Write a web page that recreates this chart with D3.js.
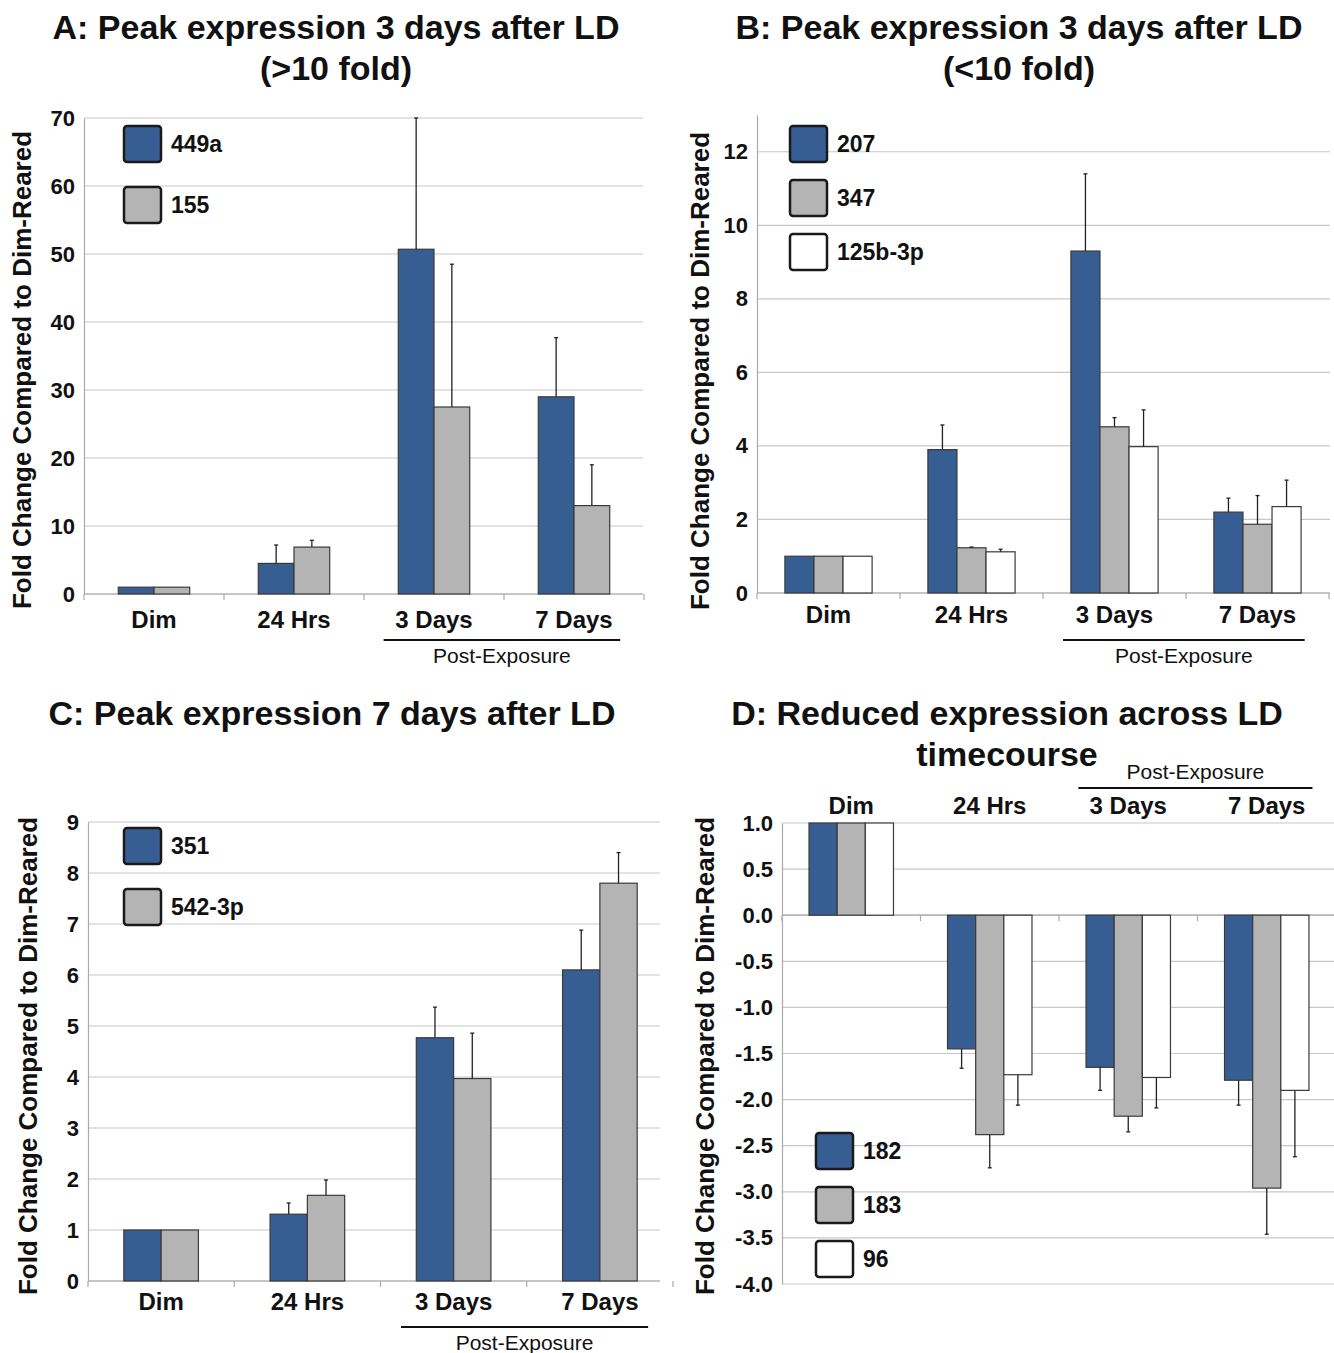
<!DOCTYPE html>
<html lang="en">
<head>
<meta charset="UTF-8">
<script src="https://d3js.org/d3.v7.min.js"></script>
<title>Fold change after LD</title>
<style>
  body { margin: 0; background: #fff; }
  text { font-family: "Liberation Sans", Arial, sans-serif; fill: #111; }
</style>
</head>
<body>
<script>
// categories shared by all four panels
var categories = ["Dim", "24 Hrs", "3 Days", "7 Days"];

// A: peak 3 days (>10 fold)
var seriesA = ["449a", "155"];
var valsA_449a = [1, 4.5, 50.7, 29.0];
var errA_449a  = [0, 2.7, 20.0, 8.7];
var valsA_155  = [1, 6.9, 27.5, 13.0];
var errA_155   = [0, 1.0, 21.0, 6.0];
var ticksA = [0, 10, 20, 30, 40, 50, 60, 70];

// B: peak 3 days (<10 fold)
var seriesB = ["207", "347", "125b-3p"];
var valsB_207  = [1, 3.9, 9.3, 2.2];
var errB_207   = [0, 0.67, 2.1, 0.38];
var valsB_347  = [1, 1.23, 4.52, 1.87];
var errB_347   = [0, 0.02, 0.25, 0.78];
var valsB_125b = [1, 1.12, 3.98, 2.35];
var errB_125b  = [0, 0.07, 1.0, 0.72];
var ticksB = [0, 2, 4, 6, 8, 10, 12];

// C: peak 7 days
var seriesC = ["351", "542-3p"];
var valsC_351 = [1, 1.31, 4.77, 6.1];
var errC_351  = [0, 0.22, 0.6, 0.78];
var valsC_542 = [1, 1.68, 3.97, 7.8];
var errC_542  = [0, 0.3, 0.89, 0.6];
var ticksC = [0, 1, 2, 3, 4, 5, 6, 7, 8, 9];

// D: reduced expression
var seriesD = ["182", "183", "96"];
var valsD_182 = [1, -1.45, -1.65, -1.79];
var errD_182  = [0, 0.21, 0.25, 0.27];
var valsD_183 = [1, -2.38, -2.18, -2.96];
var errD_183  = [0, 0.36, 0.17, 0.5];
var valsD_96  = [1, -1.73, -1.76, -1.9];
var errD_96   = [0, 0.33, 0.33, 0.72];
var ticksD = [1, 0.5, 0, -0.5, -1, -1.5, -2, -2.5, -3, -3.5, -4];

var colors = ["#375e93", "#b4b4b4", "#ffffff"];
var yTitle = "Fold Change Compared to Dim-Reared";

var svg = d3.select("body").append("svg").attr("width", 1334).attr("height", 1353);

// plain hyphen for negatives, like the original
var fmtD = d => d.toFixed(1);

function drawPanel(p) {
  var g = svg.append("g");

  var x0 = d3.scaleBand().domain(categories).range([p.left, p.right]);
  var x1 = d3.scaleBand().domain(p.series).range([0, x0.bandwidth()]).paddingOuter(0.96);
  var y = d3.scaleLinear().domain(p.domain).range([p.bottom, p.top]);

  // gridlines
  g.selectAll(".grid").data(p.ticks).join("line")
    .attr("x1", p.left).attr("x2", p.gridRight)
    .attr("y1", d => y(d)).attr("y2", d => y(d))
    .attr("stroke", "#c8c8c8").attr("stroke-width", 1.2);

  // y axis
  var ya = g.append("g").attr("transform", "translate(" + p.left + ",0)")
    .call(d3.axisLeft(y).tickValues(p.ticks).tickSize(0).tickSizeOuter(0).tickPadding(9).tickFormat(p.fmt));
  ya.select(".domain").attr("stroke", "#aaa").attr("stroke-width", 1.2);
  ya.selectAll("text").style("font-size", "22px").style("font-weight", "bold").attr("fill", "#111");

  // baseline + category boundary ticks
  var y0 = y(0);
  g.append("line").attr("x1", p.left).attr("x2", p.gridRight).attr("y1", y0).attr("y2", y0)
    .attr("stroke", "#aaa").attr("stroke-width", 1.2);
  var bounds = categories.map(c => x0(c)).concat([p.right]);
  g.selectAll(".btick").data(bounds).join("line")
    .attr("x1", d => d).attr("x2", d => d).attr("y1", y0).attr("y2", y0 + 6)
    .attr("stroke", "#aaa").attr("stroke-width", 1.2);

  // bars
  p.series.forEach(function (s, si) {
    var rows = categories.map((c, i) => ({ c: c, v: p.values[si][i], e: p.errors[si][i] }));
    g.selectAll(".bar" + si).data(rows).join("rect")
      .attr("x", d => x0(d.c) + x1(s))
      .attr("width", x1.bandwidth())
      .attr("y", d => y(Math.max(d.v, 0)))
      .attr("height", d => Math.abs(y(d.v) - y(0)))
      .attr("fill", colors[si]).attr("stroke", "#3a3a3a").attr("stroke-width", 1.2);

    var eb = rows.filter(d => d.e > 0).map(function (d) {
      var end = d.v >= 0 ? Math.min(d.v + d.e, p.domain[1]) : Math.max(d.v - d.e, p.domain[0]);
      return { x: x0(d.c) + x1(s) + x1.bandwidth() / 2, y1: y(d.v), y2: y(end) };
    });
    g.selectAll(".err" + si).data(eb).join("line")
      .attr("x1", d => d.x).attr("x2", d => d.x).attr("y1", d => d.y1).attr("y2", d => d.y2)
      .attr("stroke", "#222").attr("stroke-width", 1.3);
    g.selectAll(".cap" + si).data(eb).join("line")
      .attr("x1", d => d.x - 2).attr("x2", d => d.x + 2).attr("y1", d => d.y2).attr("y2", d => d.y2)
      .attr("stroke", "#222").attr("stroke-width", 1.3);
  });

  // category labels
  var xa;
  if (p.labelsTop) {
    xa = g.append("g").attr("transform", "translate(0," + p.top + ")")
      .call(d3.axisTop(x0).tickSize(0).tickPadding(p.labelPad));
  } else {
    xa = g.append("g").attr("transform", "translate(0," + y0 + ")")
      .call(d3.axisBottom(x0).tickSize(0).tickPadding(p.labelPad));
  }
  xa.select(".domain").remove();
  xa.selectAll("text").style("font-size", "24px").style("font-weight", "bold").attr("fill", "#111");

  // post-exposure bracket
  var bx1 = x0("3 Days") + x0.bandwidth() * 0.14;
  var bx2 = x0("7 Days") + x0.bandwidth() * 0.83;
  g.append("line").attr("x1", bx1).attr("x2", bx2).attr("y1", p.postLine).attr("y2", p.postLine)
    .attr("stroke", "#111").attr("stroke-width", 2);
  g.append("text").attr("x", (bx1 + bx2) / 2).attr("y", p.postText).attr("text-anchor", "middle")
    .style("font-size", "21px").text("Post-Exposure");

  // y title
  g.append("text").attr("transform", "translate(" + p.yTitleX + "," + p.yTitleY + ") rotate(-90)")
    .attr("text-anchor", "middle").style("font-size", "26px").style("font-weight", "bold").text(yTitle);

  // titles
  p.title.forEach(function (t, i) {
    g.append("text").attr("x", p.titleX).attr("y", p.titleY + i * 41).attr("text-anchor", "middle")
      .style("font-size", "34px").style("font-weight", "bold").text(t);
  });

  // legend
  var lg = g.append("g").attr("transform", "translate(" + p.legX + "," + p.legY + ")");
  p.series.forEach(function (s, si) {
    lg.append("rect").attr("x", 0).attr("y", si * p.legStep).attr("width", 37).attr("height", 36)
      .attr("rx", 3).attr("fill", colors[si]).attr("stroke", "#1a1a1a").attr("stroke-width", 2.5);
    lg.append("text").attr("x", 47).attr("y", si * p.legStep + 18).attr("dy", "0.35em")
      .style("font-size", "23px").style("font-weight", "bold").text(s);
  });
}

drawPanel({
  series: seriesA, values: [valsA_449a, valsA_155], errors: [errA_449a, errA_155],
  ticks: ticksA, domain: [0, 70], fmt: d3.format("d"),
  left: 84, right: 644, gridRight: 643, top: 118, bottom: 594,
  labelPad: 17, postLine: 640, postText: 663,
  yTitleX: 31, yTitleY: 370, title: ["A: Peak expression 3 days after LD", "(>10 fold)"], titleX: 336, titleY: 39,
  legX: 124, legY: 126, legStep: 61
});

drawPanel({
  series: seriesB, values: [valsB_207, valsB_347, valsB_125b], errors: [errB_207, errB_347, errB_125b],
  ticks: ticksB, domain: [0, 13], fmt: d3.format("d"),
  left: 757, right: 1329, gridRight: 1330, top: 115, bottom: 593,
  labelPad: 13, postLine: 640, postText: 663,
  yTitleX: 709, yTitleY: 371, title: ["B: Peak expression 3 days after LD", "(<10 fold)"], titleX: 1019, titleY: 39,
  legX: 790, legY: 126, legStep: 54
});

drawPanel({
  series: seriesC, values: [valsC_351, valsC_542], errors: [errC_351, errC_542],
  ticks: ticksC, domain: [0, 9], fmt: d3.format("d"),
  left: 88, right: 673, gridRight: 660, top: 822, bottom: 1281,
  labelPad: 12, postLine: 1327, postText: 1350,
  yTitleX: 37, yTitleY: 1056, title: ["C: Peak expression 7 days after LD"], titleX: 332, titleY: 725,
  legX: 124, legY: 828, legStep: 61
});

drawPanel({
  series: seriesD, values: [valsD_182, valsD_183, valsD_96], errors: [errD_182, errD_183, errD_96],
  ticks: ticksD, domain: [-4, 1], fmt: fmtD,
  left: 782, right: 1336, gridRight: 1334, top: 823, bottom: 1284,
  labelsTop: true, labelPad: 9, postLine: 788, postText: 779,
  yTitleX: 714, yTitleY: 1056, title: ["D: Reduced expression across LD", "timecourse"], titleX: 1007, titleY: 725,
  legX: 816, legY: 1133, legStep: 54
});
</script>
</body>
</html>
